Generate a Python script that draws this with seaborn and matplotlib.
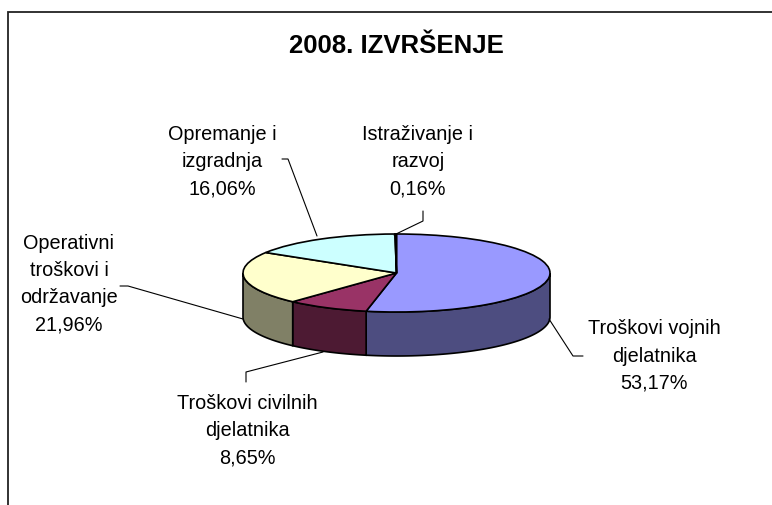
"""
3D-style pie chart: 2008. IZVRŠENJE
"""

import numpy as np
import matplotlib
matplotlib.use("Agg")
import matplotlib.pyplot as plt
from matplotlib.patches import Polygon, Rectangle
from matplotlib.lines import Line2D
import seaborn as sns

# data
categories = ["Troškovi vojnih\ndjelatnika", "Troškovi civilnih\ndjelatnika",
              "Operativni\ntroškovi i\nodržavanje", "Opremanje i\nizgradnja",
              "Istraživanje i\nrazvoj"]
shares = [53.17, 8.65, 21.96, 16.06, 0.16]
pct_labels = ["53,17%", "8,65%", "21,96%", "16,06%", "0,16%"]
top_colors = ["#9999FF", "#993366", "#FFFFCC", "#CCFFFF", "#660066"]
side_colors = ["#4D4D80", "#4D1A33", "#808066", "#668080", "#330033"]
title = "2008. IZVRŠENJE"

# layout (pixels)
W, H = 772, 506
CX, CY = 396.5, 274      # centre of the top face
A, B = 153.5, 39         # semi-axes of the top face
DEPTH = 44               # thickness of the pie

# label centres and leader lines, pixels
label_pos = [(654, 356), (247, 431), (69, 284), (222, 162), (418, 162)]
leaders = [
    [(583, 357), (573, 357), (549, 320)],
    [(246, 383), (246, 373), (323, 353)],
    [(120, 287), (128, 287), (243, 320)],
    [(282, 160), (288, 160), (317, 237)],
    [(423, 212), (423, 222), (394, 236)],
]

sns.set_theme(style="white")
plt.rcParams["font.family"] = ["Liberation Sans", "DejaVu Sans"]

fig = plt.figure(figsize=(W / 100, H / 100), dpi=100)
fig.patch.set_facecolor("white")
ax = fig.add_axes([0, 0, 1, 1])

palette = sns.color_palette(top_colors)
wedges, _ = ax.pie(shares, colors=palette, startangle=90, counterclock=False,
                   radius=1, wedgeprops=dict(edgecolor="black", linewidth=1.2,
                                             zorder=3))

# side walls of the front half
d = DEPTH / B
cum = np.concatenate([[0], np.cumsum(shares)]) / sum(shares) * 360
for i in range(len(shares)):
    t_hi = 90 - cum[i]
    t_lo = 90 - cum[i + 1]
    lo, hi = max(t_lo, -180), min(t_hi, 0)
    if hi <= lo:
        continue
    t = np.radians(np.linspace(lo, hi, 120))
    top = np.column_stack([np.cos(t), np.sin(t)])
    bot = np.column_stack([np.cos(t[::-1]), np.sin(t[::-1]) - d])
    ax.add_patch(Polygon(np.vstack([top, bot]), closed=True,
                         facecolor=side_colors[i], edgecolor="black",
                         linewidth=1.2, zorder=2))

ax.set_aspect("auto")
ax.set_xlim(-CX / A, (W - CX) / A)
ax.set_ylim(-(H - CY) / B, CY / B)
ax.axis("off")

# chart frame (runs off the right and bottom edges)
fig.patches.append(Rectangle((8 / W, -0.1), 1.2, 1 - 13 / H + 0.1,
                             transform=fig.transFigure, fill=False,
                             edgecolor="#222222", linewidth=1.3))

fig.text(CX / W, 1 - 46 / H, title, ha="center", va="center",
         fontsize=18.5, fontweight="bold", color="black")

for (x, y), cat, pct in zip(label_pos, categories, pct_labels):
    fig.text(x / W, 1 - y / H, cat + "\n" + pct, ha="center", va="center",
             multialignment="center", fontsize=14.3, linespacing=1.55,
             color="black")

for pts in leaders:
    xs = [p[0] / W for p in pts]
    ys = [1 - p[1] / H for p in pts]
    fig.lines.append(Line2D(xs, ys, transform=fig.transFigure,
                            color="black", linewidth=0.8))

fig.savefig("out.png", dpi=100)
plt.close(fig)
